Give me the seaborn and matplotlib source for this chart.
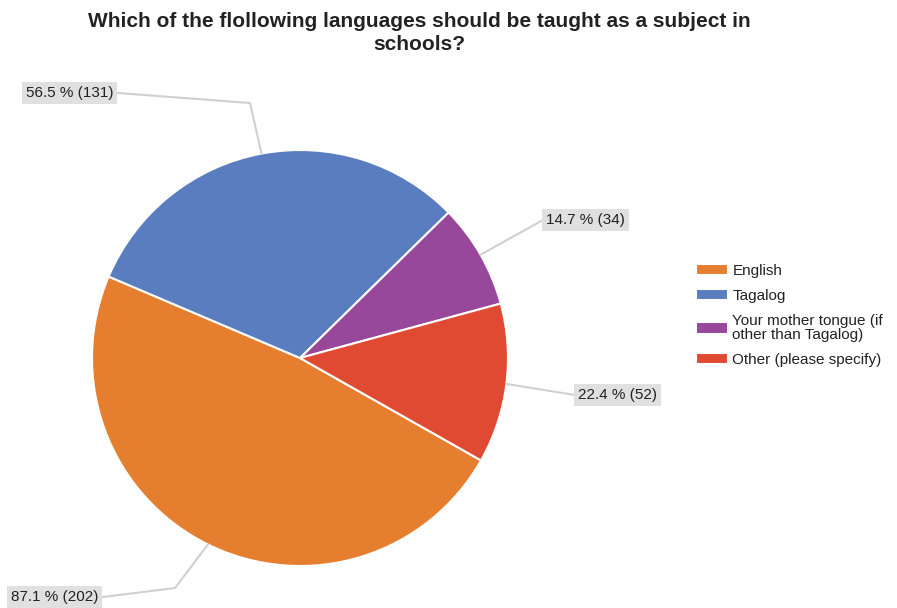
import matplotlib
matplotlib.use("Agg")
import matplotlib.pyplot as plt
import seaborn as sns
import numpy as np

categories = ["English", "Tagalog", "Your mother tongue (if\nother than Tagalog)", "Other (please specify)"]
counts = [202, 131, 34, 52]
percents = [87.1, 56.5, 14.7, 22.4]
colors = ["#E67E30", "#5A7DBF", "#98489B", "#E04A33"]
title = "Which of the flollowing languages should be taught as a subject in\nschools?"

sns.set_theme(style="white")
plt.rcParams['font.family'] = ['Liberation Sans', 'DejaVu Sans']

W, H = 897, 608
fig = plt.figure(figsize=(W / 100, H / 100), dpi=100)
ax = fig.add_axes([0, 0, 1, 1])

cx, cy, r = 300, H - 358, 208
start = -29.5
wedges, _ = ax.pie(counts, colors=colors, startangle=start, counterclock=False,
                   center=(cx, cy), radius=r, frame=True,
                   wedgeprops=dict(edgecolor="white", linewidth=1.5))
ax.set_xlim(0, W)
ax.set_ylim(0, H)
ax.set_aspect("equal")
ax.axis("off")

# label placements (pixel coords, top-left origin): box anchor and elbow point
label_pos = [(8, 597, (175, 588)),
             (23, 93, (250, 103)),
             (543, 220, None),
             (575, 395, None)]
box_w = [95, 95, 87, 87]

for i, w in enumerate(wedges):
    mid = np.deg2rad((w.theta1 + w.theta2) / 2)
    ex, ey = cx + r * np.cos(mid), cy + r * np.sin(mid)
    tx, ty, elbow = label_pos[i]
    txt = f"{percents[i]:.1f} % ({counts[i]})"
    ax.text(tx + 3, H - ty, txt, ha="left", va="center", fontsize=11, color="#222222",
            bbox=dict(boxstyle="square,pad=0.25", facecolor="#E0E0E0", edgecolor="none"), zorder=5)
    lx = tx + box_w[i] if i in (0, 1) else tx
    pts = [(ex, ey)]
    if elbow is not None:
        pts.append((elbow[0], H - elbow[1]))
    pts.append((lx, H - ty))
    xs, ys = zip(*pts)
    ax.plot(xs, ys, color="#D0D0D0", lw=1.5, zorder=1, solid_capstyle="round")

fig.text(0.468, 1 - 12 / H, title, ha="center", va="top", fontsize=15,
         fontweight="bold", color="#222222", linespacing=1.3)

leg = ax.legend(wedges, categories, loc="upper left", bbox_to_anchor=(688 / W, 1 - 256 / H),
                bbox_transform=fig.transFigure, frameon=False, fontsize=11,
                handlelength=2.1, handleheight=0.75, handletextpad=0.3,
                labelspacing=0.72, borderpad=0)
for t in leg.get_texts():
    t.set_color("#222222")
    t.set_linespacing(1.05)

fig.savefig("out.png", dpi=100)
